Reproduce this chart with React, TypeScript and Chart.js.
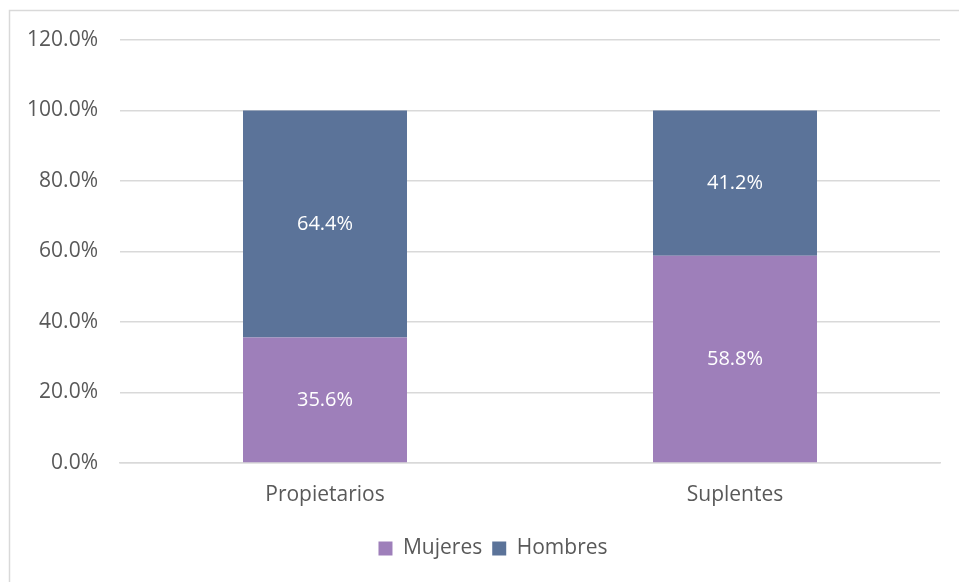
import React, { useEffect, useRef } from "react";
import { Chart, registerables } from "chart.js";

Chart.register(...registerables);

const categories = ["Propietarios", "Suplentes"];
const mujeres = [35.6, 58.8];
const hombres = [64.4, 41.2];
const seriesNames = ["Mujeres", "Hombres"];
const yTicks = [0, 20, 40, 60, 80, 100, 120];

const FONT = "'Open Sans', sans-serif";

const borderPlugin = {
  id: "frame",
  beforeDraw(chart: any) {
    const ctx = chart.ctx;
    ctx.save();
    ctx.fillStyle = "#ffffff";
    ctx.fillRect(0, 0, chart.width, chart.height);
    ctx.strokeStyle = "#d9d9d9";
    ctx.lineWidth = 1.5;
    ctx.strokeRect(9.5, 10.5, chart.width + 20, chart.height + 20);
    ctx.restore();
  },
};

const legendShift = {
  id: "legendShift",
  afterLayout(chart: any) {
    const lg = chart.legend;
    if (lg) {
      lg.left += 23;
      lg.right += 23;
    }
  },
};

const labelPlugin = {
  id: "inlabels",
  afterDatasetsDraw(chart: any) {
    const ctx = chart.ctx;
    ctx.save();
    ctx.fillStyle = "#ffffff";
    ctx.font = `20px ${FONT}`;
    ctx.textAlign = "center";
    ctx.textBaseline = "middle";
    chart.data.datasets.forEach((ds: any, di: number) => {
      const meta = chart.getDatasetMeta(di);
      meta.data.forEach((bar: any, i: number) => {
        const v = ds.data[i];
        const yc = (bar.y + bar.base) / 2;
        ctx.fillText(v.toFixed(1) + "%", bar.x, yc);
      });
    });
    ctx.restore();
  },
};

export default function App() {
  const ref = useRef<HTMLCanvasElement>(null);
  useEffect(() => {
    if (!ref.current) return;
    const chart = new Chart(ref.current, {
      type: "bar",
      data: {
        labels: categories,
        datasets: [
          { label: seriesNames[0], data: mujeres, backgroundColor: "#9e7fba", categoryPercentage: 1, barPercentage: 0.4 },
          { label: seriesNames[1], data: hombres, backgroundColor: "#5b7399", categoryPercentage: 1, barPercentage: 0.4 },
        ],
      },
      options: {
        responsive: false,
        animation: false,
        layout: { padding: { left: 0, right: 19, top: 40, bottom: 13 } },
        scales: {
          x: {
            stacked: true,
            grid: { display: false, drawTicks: false },
            border: { display: true, color: "#d9d9d9", width: 1.5 },
            ticks: { color: "#595959", font: { family: FONT, size: 21 }, padding: 19 },
            afterFit(scale: any) {
              scale.height = 65;
            },
          },
          y: {
            stacked: true,
            min: 0,
            max: 120,
            afterBuildTicks(scale: any) {
              scale.ticks = yTicks.map((v) => ({ value: v }));
            },
            afterFit(scale: any) {
              scale.width = 120;
            },
            grid: { color: "#d9d9d9", lineWidth: 1.5, drawTicks: false },
            border: { display: false },
            ticks: {
              color: "#595959",
              font: { family: FONT, size: 21 },
              padding: 22,
              callback: (v: any) => Number(v).toFixed(1) + "%",
            },
          },
        },
        plugins: {
          legend: {
            position: "bottom",
            labels: {
              color: "#595959",
              font: { family: FONT, size: 21 },
              boxWidth: 14,
              boxHeight: 14,
              padding: 10,
            },
          },
          tooltip: { enabled: false },
        },
      },
      plugins: [borderPlugin, legendShift, labelPlugin],
    });
    return () => chart.destroy();
  }, []);
  return (
    <canvas
      ref={ref}
      width={959}
      height={582}
      style={{ position: "absolute", left: 0, top: 0, width: 959, height: 582 }}
    />
  );
}
